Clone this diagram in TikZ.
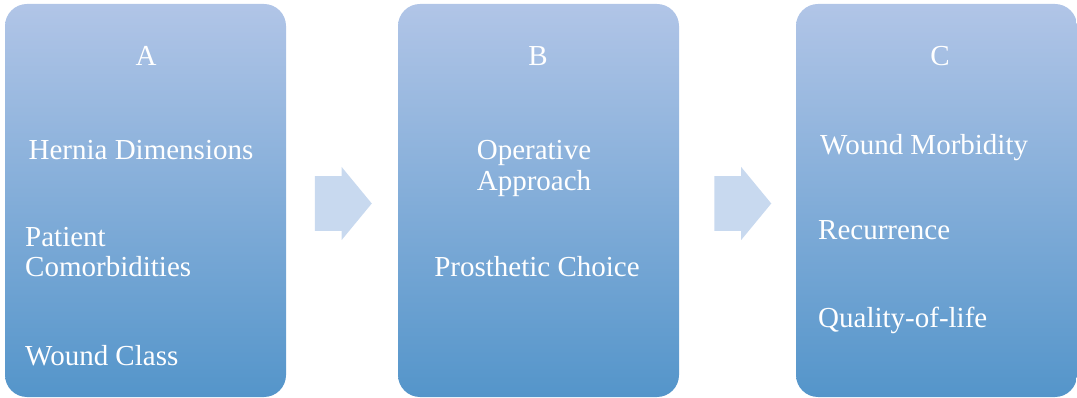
\documentclass[tikz,border=0pt]{standalone}
\usepackage{fontspec}
\setmainfont{Liberation Serif}
\usetikzlibrary{shapes.arrows}
\definecolor{boxtop}{HTML}{B1C5E7}
\definecolor{boxbottom}{HTML}{5495CA}
\definecolor{arrowfill}{HTML}{C8D9EF}
\tikzset{
  stage/.style={rounded corners=22pt, minimum width=281pt, minimum height=393pt,
    inner sep=0pt, top color=boxtop, bottom color=boxbottom, draw=none},
  flowarrow/.style={single arrow, fill=arrowfill, draw=none, minimum height=57pt,
    minimum width=73pt, inner xsep=0pt, inner ysep=21pt, single arrow tip angle=101},
  txt/.style={text=white, font=\fontsize{29}{32}\selectfont, inner sep=0pt}
}
\begin{document}
\begin{tikzpicture}[x=1pt, y=-1pt]
    \useasboundingbox (0,0) rectangle (1077,398);

    % Draw the three stages
    \node[stage] (A) at (145.5,200.5) {};
    \node[stage] (B) at (538.5,200.5) {};
    \node[stage] (C) at (936.5,200.5) {};

    % Arrows between stages
    \node[flowarrow] (ab) at (332,203.5) {};
    \node[flowarrow] (bc) at (731.5,203.5) {};

    % Stage headings
    \node[txt, anchor=base] (hA) at (146,66) {A};
    \node[txt, anchor=base] (hB) at (538,66) {B};
    \node[txt, anchor=base] (hC) at (940,66) {C};

    % Stage A items
    \node[txt, anchor=base] (a1) at (141,160) {Hernia Dimensions};
    \node[txt, anchor=base west] (a2) at (25,247) {Patient};
    \node[txt, anchor=base west] (a3) at (25,277) {Comorbidities};
    \node[txt, anchor=base west] (a4) at (25,365) {Wound Class};

    % Stage B items
    \node[txt, anchor=base] (b1) at (534,160) {Operative};
    \node[txt, anchor=base] (b2) at (534,191) {Approach};
    \node[txt, anchor=base] (b3) at (537,277) {Prosthetic Choice};

    % Stage C items
    \node[txt, anchor=base west] (c1) at (820,155) {Wound Morbidity};
    \node[txt, anchor=base west] (c2) at (818,240) {Recurrence};
    \node[txt, anchor=base west] (c3) at (818,327) {Quality-of-life};
\end{tikzpicture}
\end{document}
